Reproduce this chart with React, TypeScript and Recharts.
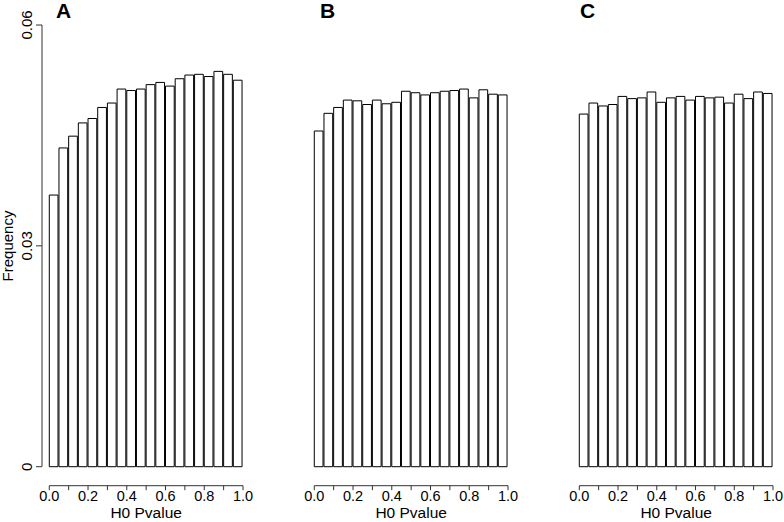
import React from 'react';
import { BarChart, Bar, XAxis, YAxis, ReferenceLine } from 'recharts';

// histogram bins (mid points) of the H0 p-values
const binMids = [
  0.025, 0.075, 0.125, 0.175, 0.225, 0.275, 0.325, 0.375, 0.425, 0.475,
  0.525, 0.575, 0.625, 0.675, 0.725, 0.775, 0.825, 0.875, 0.925, 0.975,
];

const freqA = [
  0.0369, 0.0433, 0.0449, 0.0467, 0.0473, 0.0488, 0.0494, 0.0513, 0.0511, 0.0513,
  0.0519, 0.0522, 0.0517, 0.0527, 0.0532, 0.0533, 0.053, 0.0537, 0.0533, 0.0525,
];
const freqB = [
  0.0456, 0.048, 0.0488, 0.0498, 0.0497, 0.0492, 0.0498, 0.0493, 0.0495, 0.051,
  0.0508, 0.0505, 0.0508, 0.051, 0.0511, 0.0513, 0.0501, 0.0512, 0.0506, 0.0505,
];
const freqC = [
  0.0479, 0.0494, 0.049, 0.0492, 0.0503, 0.05, 0.0501, 0.0509, 0.0495, 0.0501,
  0.0503, 0.0498, 0.0503, 0.0501, 0.0502, 0.0494, 0.0506, 0.05, 0.0509, 0.0507,
];

const xTicks = [0, 0.1, 0.2, 0.3, 0.4, 0.5, 0.6, 0.7, 0.8, 0.9, 1];
const yTicks = [0, 0.03, 0.06];
const xTitle = 'H0 Pvalue';
const yTitle = 'Frequency';

const FONT = '"Liberation Sans", Arial, sans-serif';
const AXIS = '#333';

const CHART_W = 262;
const CHART_H = 522;
const Y_AXIS_W = 42;
const PLOT_RIGHT = 243;
const MARGIN_RIGHT = CHART_W - PLOT_RIGHT;
const MARGIN_TOP = 25;
const X_AXIS_H = 36.3;
const X_LO = -0.0376; // gap between y axis and first bar
const Y_LO = -0.00258; // gap between bars and x axis line
const BIN_W = 0.05;
const plotW = PLOT_RIGHT - Y_AXIS_W;
const barSize = (plotW / (1 - X_LO)) * BIN_W;

const YTick = (props: any) => {
  const { x, y, payload } = props;
  const label = payload.value === 0 ? '0' : payload.value.toFixed(2);
  return (
    <text
      x={x}
      y={y}
      transform={`rotate(-90 ${x} ${y})`}
      textAnchor="middle"
      fontSize={15}
      fontFamily={FONT}
      fill="#000"
    >
      {label}
    </text>
  );
};

const XTitle = (props: any) => {
  const vb = props.viewBox;
  // centre on the 0..1 range, not on the whole plot
  const cx = vb.x + (vb.width * (0.5 - X_LO)) / (1 - X_LO);
  return (
    <text x={cx} y={vb.y + vb.height - 4} textAnchor="middle" fontSize={15.5} fontFamily={FONT} fill="#000">
      {xTitle}
    </text>
  );
};

interface PanelProps {
  values: number[];
  letter: string;
  letterX: number;
  showY: boolean;
}

function Panel({ values, letter, letterX, showY }: PanelProps) {
  const data = binMids.map((mid, i) => ({ mid, freq: values[i] }));
  return (
    <BarChart
      width={CHART_W}
      height={CHART_H}
      data={data}
      margin={{ top: MARGIN_TOP, right: MARGIN_RIGHT, bottom: 0, left: showY ? 0 : Y_AXIS_W }}
      barCategoryGap={0}
      barGap={0}
    >
      <XAxis
        dataKey="mid"
        type="number"
        domain={[X_LO, 1]}
        allowDataOverflow
        ticks={xTicks}
        interval={0}
        axisLine={false}
        tickLine={{ stroke: AXIS }}
        tickSize={4.5}
        tickMargin={1}
        height={X_AXIS_H}
        tick={{ fontSize: 14.5, fontFamily: FONT, fill: '#000' }}
        tickFormatter={(v: number, i: number) => (i % 2 === 0 ? v.toFixed(1) : '')}
        label={<XTitle />}
      />
      <YAxis
        type="number"
        domain={[Y_LO, 0.06]}
        allowDataOverflow
        ticks={yTicks}
        interval={0}
        hide={!showY}
        width={Y_AXIS_W}
        axisLine={false}
        tickLine={{ stroke: AXIS }}
        tickSize={6}
        tickMargin={4}
        tick={<YTick />}
      />
      <ReferenceLine segment={[{ x: 0, y: Y_LO }, { x: 1, y: Y_LO }]} stroke={AXIS} strokeWidth={1} />
      {showY && (
        <ReferenceLine segment={[{ x: X_LO, y: 0 }, { x: X_LO, y: 0.06 }]} stroke={AXIS} strokeWidth={1} />
      )}
      <Bar dataKey="freq" fill="#fff" stroke="#000" strokeWidth={1} barSize={barSize} isAnimationActive={false} />
      <text x={letterX} y={18} fontSize={21} fontWeight="bold" fontFamily={FONT} fill="#000">
        {letter}
      </text>
      {showY && (
        <text
          x={13}
          y={246}
          transform="rotate(-90 13 246)"
          textAnchor="middle"
          fontSize={15}
          fontFamily={FONT}
          fill="#000"
        >
          {yTitle}
        </text>
      )}
    </BarChart>
  );
}

export default function App() {
  return (
    <div style={{ position: 'absolute', left: 0, top: 0, width: 784, height: 522, background: '#fff', overflow: 'hidden' }}>
      <div style={{ position: 'absolute', left: 0, top: 0 }}>
        <Panel values={freqA} letter="A" letterX={56} showY />
      </div>
      <div style={{ position: 'absolute', left: 265, top: 0 }}>
        <Panel values={freqB} letter="B" letterX={55} showY={false} />
      </div>
      <div style={{ position: 'absolute', left: 530, top: 0 }}>
        <Panel values={freqC} letter="C" letterX={50} showY={false} />
      </div>
    </div>
  );
}
